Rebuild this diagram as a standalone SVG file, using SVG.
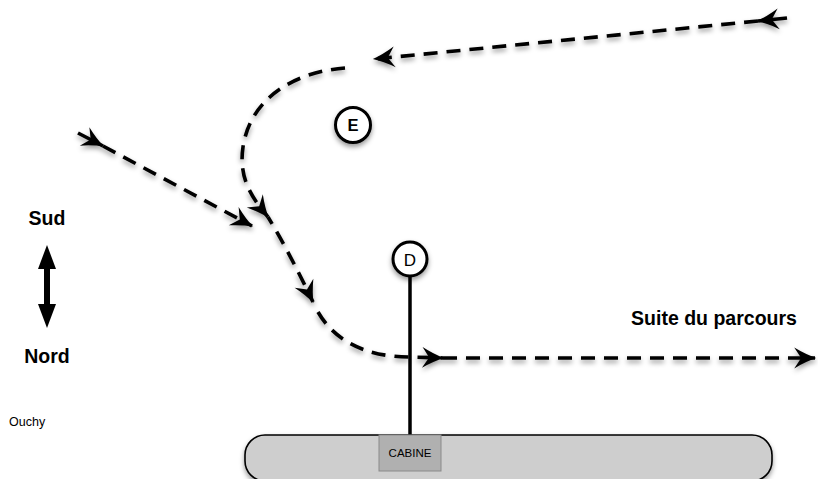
<svg xmlns="http://www.w3.org/2000/svg" width="818" height="479" viewBox="0 0 818 479">
<style>
.dash{fill:none;stroke:#000;stroke-width:3.6;stroke-dasharray:14 9;stroke-linecap:butt}
.solid{fill:none;stroke:#000;stroke-width:3.6}
.lbl{font-family:"Liberation Sans",Arial,sans-serif;fill:#000}
.big{font-size:19.5px;font-weight:bold}
.node{fill:#fff;stroke:#000;stroke-width:3}
</style>
<defs>
<marker id="ah" markerUnits="userSpaceOnUse" markerWidth="30" markerHeight="30" viewBox="-22 -12 26 24" refX="0" refY="0" orient="auto">
<path d="M1,0 Q-8,-3 -18,-9 L-12,0 L-18,9 Q-8,3 1,0 Z" fill="#000"/>
</marker>
<filter id="sh" x="-30%" y="-30%" width="160%" height="160%">
<feDropShadow dx="0" dy="3" stdDeviation="2.5" flood-color="#000" flood-opacity="0.4"/>
</filter>
</defs>

<g id="connectors">
<g filter="url(#sh)">
<path class="solid" d="M787,18 L758,21" marker-end="url(#ah)"/>
<path class="dash" d="M758,21 L374,59" marker-end="url(#ah)"/>
<path class="solid" d="M78,133 L103,146" marker-end="url(#ah)"/>
<path class="dash" d="M103,146 L252,226" marker-end="url(#ah)"/>
<path class="dash" d="M345,68 C292,72 250,100 243,147 C238,180 254,200 268,217" marker-end="url(#ah)"/>
<path class="dash" style="stroke-dashoffset:6" d="M268,217 C285,245 300,275 313,302" marker-end="url(#ah)"/>
<path class="dash" d="M318,312 C333,338 362,357 410,357 L443,358" marker-end="url(#ah)"/>
<path class="dash" d="M443,358 L815,358" marker-end="url(#ah)"/>
</g>
<line x1="410" y1="275" x2="410" y2="435" stroke="#000" stroke-width="3.5"/>
</g>

<g id="boat">
<rect x="245" y="435" width="527" height="46" rx="20" ry="20" fill="#cecece" stroke="#000" stroke-width="1.6" filter="url(#sh)"/>
</g>
<g id="cabine">
<rect x="379" y="435" width="62" height="36" fill="#b0b0b0" stroke="#8a8a8a" stroke-width="1"/>
<text class="lbl" x="410" y="457" font-size="11.5" text-anchor="middle">CABINE</text>
</g>

<g id="node-E">
<circle class="node" cx="353" cy="125" r="17.5" filter="url(#sh)"/>
<text class="lbl" x="353" y="131" font-size="16.5" font-weight="bold" text-anchor="middle">E</text>
</g>
<g id="node-D">
<circle class="node" cx="410" cy="259" r="17" filter="url(#sh)"/>
<text class="lbl" x="410" y="265.5" font-size="17" text-anchor="middle">D</text>
</g>

<g id="compass">
<line x1="47" y1="262" x2="47" y2="312" stroke="#000" stroke-width="6"/>
<path d="M47,245 L56,269 L38,269 Z" fill="#000"/>
<path d="M47,328 L56,304 L38,304 Z" fill="#000"/>
<text class="lbl big" x="47" y="225" text-anchor="middle">Sud</text>
<text class="lbl big" x="47" y="363" text-anchor="middle">Nord</text>
</g>
<text class="lbl" x="9" y="426" font-size="12.5">Ouchy</text>
<text class="lbl big" x="714" y="325" text-anchor="middle">Suite du parcours</text>
</svg>
